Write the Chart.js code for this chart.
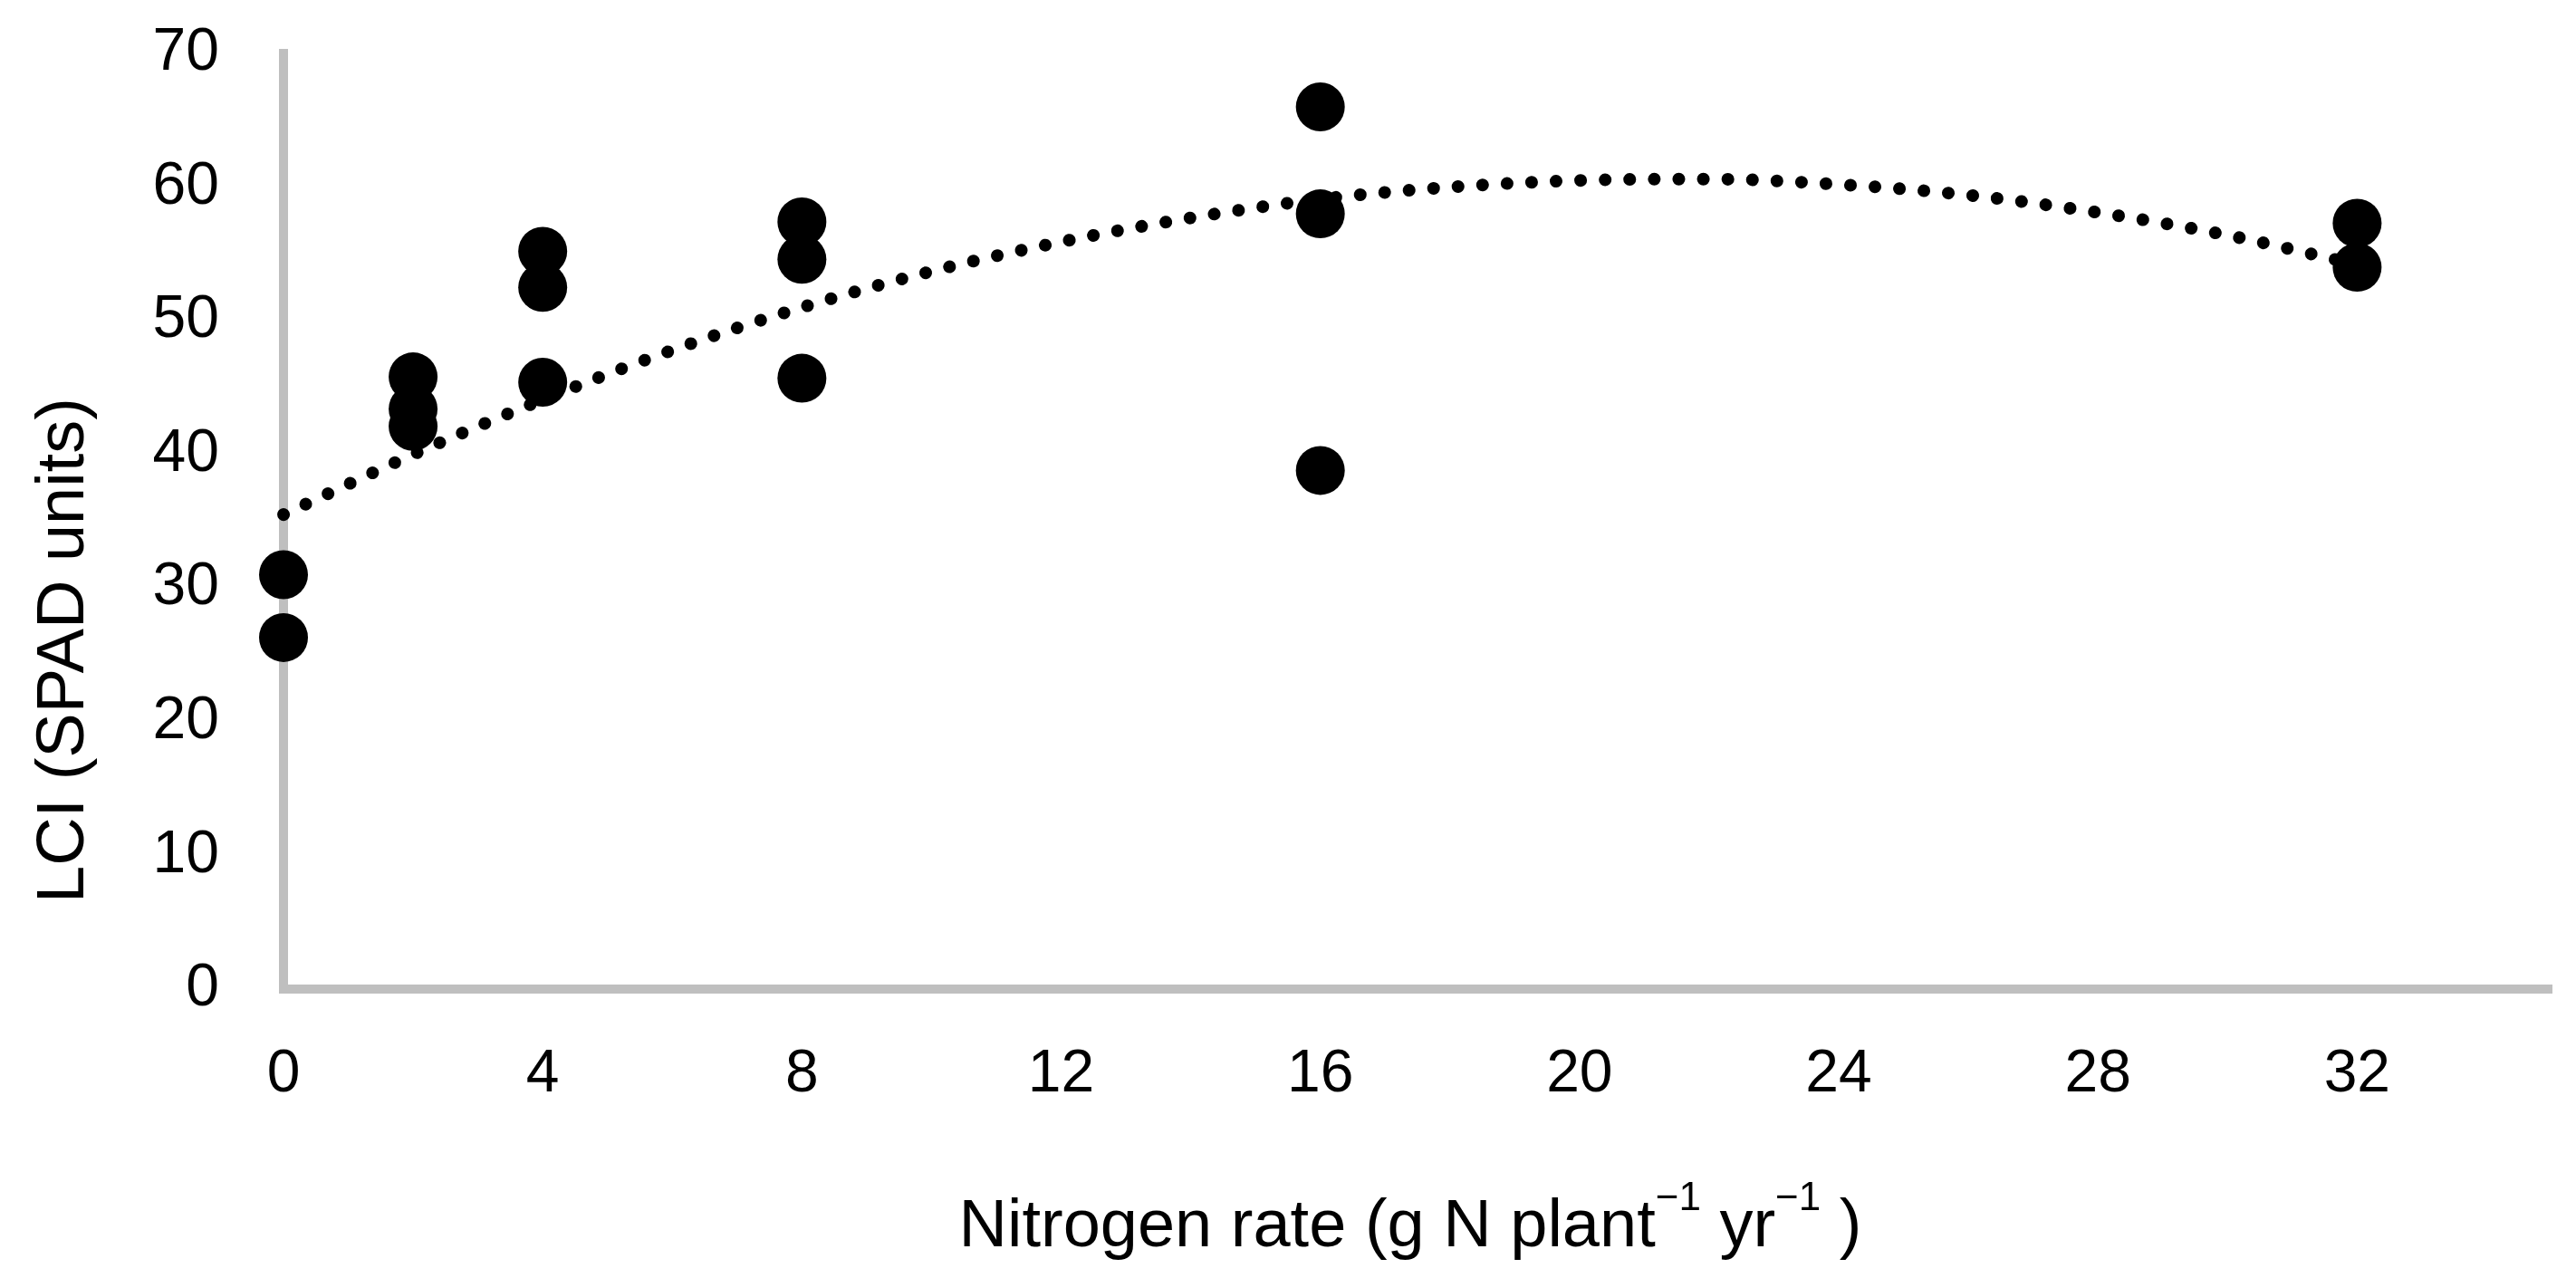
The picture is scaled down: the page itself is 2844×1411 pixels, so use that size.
<!DOCTYPE html>
<html>
<head>
<meta charset="utf-8">
<script src="https://cdn.jsdelivr.net/npm/chart.js@4.4.1/dist/chart.umd.min.js"></script>
<style>
  html, body { margin: 0; padding: 0; background: #fff; }
  #caixa { width: 2844px; height: 1411px; position: relative; }
</style>
</head>
<body>
<div id="caixa"><canvas id="grafico"></canvas></div>
<script>
// pontos medidos (dose de N x LCI)
const doses = [0, 0, 2, 2, 2, 4, 4, 4, 8, 8, 8, 16, 16, 16, 32, 32];
const lci = [31.0, 26.3, 45.8, 43.4, 42.1, 55.2, 52.5, 45.4, 57.4, 54.6, 45.7, 66.0, 58.0, 38.8, 57.3, 54.0];

// linha de tendencia
const dosesTendencia = [0, 2, 4, 6, 8, 10, 12, 14, 16, 18, 20, 22, 24, 26, 28, 30, 32];
const lciTendencia = [35.5, 40.0, 44.1, 47.8, 51.0, 53.7, 55.9, 57.7, 59.1, 60.0, 60.5, 60.6, 60.2, 59.4, 58.1, 56.4, 54.2];

const ticksX = [0, 4, 8, 12, 16, 20, 24, 28, 32];
const ticksY = [0, 10, 20, 30, 40, 50, 60, 70];

const tituloY = "LCI (SPAD units)";
const partesTituloX = ["Nitrogen rate (g N plant", " yr", " )"];
const expoente = "\u22121";

const fonte = "'Liberation Sans', Arial, sans-serif";

const titulosEixos = {
  id: "titulosEixos",
  afterDraw(chart) {
    const { ctx, chartArea } = chart;

    // titulo do eixo y
    ctx.save();
    ctx.fillStyle = "#000";
    ctx.font = `74px ${fonte}`;
    ctx.translate(92, chartArea.top + (chartArea.bottom - chartArea.top) * 0.638);
    ctx.rotate(-Math.PI / 2);
    ctx.textAlign = "center";
    ctx.textBaseline = "alphabetic";
    ctx.fillText(tituloY, 0, 0);
    ctx.restore();

    // titulo do eixo x com expoentes
    ctx.save();
    ctx.fillStyle = "#000";
    ctx.textAlign = "left";
    ctx.textBaseline = "alphabetic";
    const normal = `74px ${fonte}`;
    const sup = `44px ${fonte}`;
    const pedacos = [
      [partesTituloX[0], normal, 0],
      [expoente, sup, 40],
      [partesTituloX[1], normal, 0],
      [expoente, sup, 40],
      [partesTituloX[2], normal, 0],
    ];
    let total = 0;
    pedacos.forEach((p) => {
      ctx.font = p[1];
      total += ctx.measureText(p[0]).width;
    });
    let x = (chartArea.left + chartArea.right) / 2 - 8 - total / 2;
    const base = chart.height - 35;
    pedacos.forEach((p) => {
      ctx.font = p[1];
      ctx.fillText(p[0], x, base - p[2]);
      x += ctx.measureText(p[0]).width;
    });
    ctx.restore();
  },
};

const ctx = document.getElementById("grafico").getContext("2d");

new Chart(ctx, {
  type: "scatter",
  data: {
    datasets: [
      {
        label: "LCI",
        data: doses.map((d, i) => ({ x: d, y: lci[i] })),
        backgroundColor: "#000",
        borderColor: "#000",
        borderWidth: 0,
        pointRadius: 27,
        pointHoverRadius: 27,
        clip: false,
      },
      {
        label: "Tendência",
        data: dosesTendencia.map((d, i) => ({ x: d, y: lciTendencia[i] })),
        showLine: true,
        borderColor: "#000",
        borderWidth: 14,
        borderDash: [0.1, 27],
        borderCapStyle: "round",
        cubicInterpolationMode: "monotone",
        pointRadius: 0,
        pointHoverRadius: 0,
        fill: false,
        clip: false,
      },
    ],
  },
  options: {
    responsive: true,
    maintainAspectRatio: false,
    animation: false,
    layout: {
      padding: { left: 0, right: 20, top: 59, bottom: 0 },
    },
    plugins: {
      legend: { display: false },
      tooltip: { enabled: false },
    },
    scales: {
      x: {
        type: "linear",
        min: 0,
        max: 35,
        afterBuildTicks: (scale) => {
          scale.ticks = ticksX.map((v) => ({ value: v }));
        },
        afterFit: (scale) => {
          scale.height = 319;
          scale.paddingLeft = 0;
          scale.paddingRight = 0;
        },
        grid: { display: false, drawTicks: false },
        border: { display: true, color: "#BFBFBF", width: 10 },
        ticks: {
          padding: 55,
          color: "#000",
          font: { family: fonte, size: 66 },
        },
      },
      y: {
        type: "linear",
        min: 0,
        max: 70,
        afterBuildTicks: (scale) => {
          scale.ticks = ticksY.map((v) => ({ value: v }));
        },
        afterFit: (scale) => {
          scale.width = 313;
          scale.paddingTop = 0;
          scale.paddingBottom = 0;
        },
        grid: { display: false, drawTicks: false },
        border: { display: true, color: "#BFBFBF", width: 10 },
        ticks: {
          padding: 71,
          color: "#000",
          font: { family: fonte, size: 66 },
        },
      },
    },
  },
  plugins: [titulosEixos],
});
</script>
</body>
</html>
